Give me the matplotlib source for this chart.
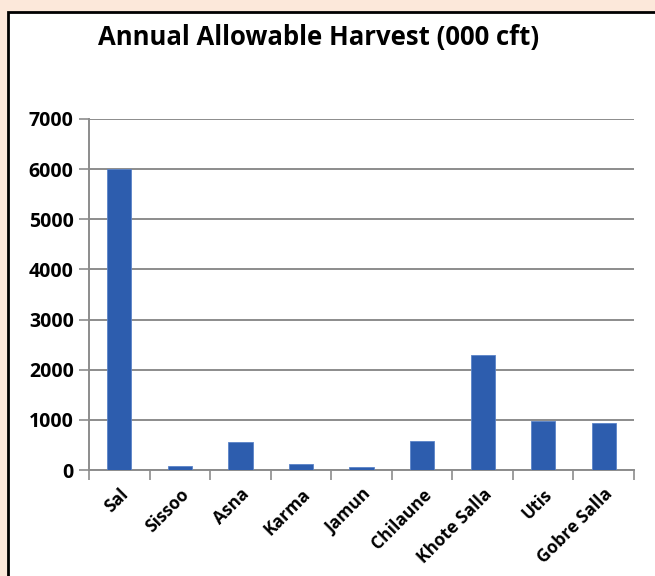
import matplotlib.pyplot as plt
import numpy as np
from matplotlib.patches import Rectangle

species = ["Sal", "Sissoo", "Asna", "Karma", "Jamun", "Chilaune",
           "Khote Salla", "Utis", "Gobre Salla"]
harvest = [6000, 80, 555, 120, 65, 585, 2290, 985, 945]
yticks = [0, 1000, 2000, 3000, 4000, 5000, 6000, 7000]

plt.rcParams["font.family"] = ["Open Sans", "DejaVu Sans"]

fig = plt.figure(figsize=(6.55, 5.76), dpi=100)
fig.patch.set_facecolor("#FCE8DA")

# white chart panel with black frame
panel = Rectangle((8 / 655, -0.05), 1.0, 1 - 12 / 576 + 0.05,
                  transform=fig.transFigure, facecolor="white",
                  edgecolor="black", linewidth=2, zorder=-5)
fig.patches.append(panel)

ax = fig.add_axes([89 / 655, 1 - 470 / 576, 545 / 655, 351 / 576])
ax.set_facecolor("none")
ax.set_zorder(2)

x = np.arange(len(species))
ax.bar(x, harvest, width=0.4, color="#2D5DAE", edgecolor="#5B84C8",
       linewidth=0.6, zorder=3)

ax.set_xlim(-0.5, len(species) - 0.5)
ax.set_ylim(0, 7000)
ax.set_yticks(yticks)
ax.set_yticklabels([str(v) for v in yticks], fontsize=14, fontweight="bold")
ax.yaxis.grid(True, color="#8C8C8C", linewidth=1.4, zorder=0)
ax.tick_params(axis="y", length=7, width=1.2, color="#8C8C8C", pad=4)

ax.set_xticks(x)
ax.set_xticklabels(species, rotation=45, ha="right", rotation_mode="anchor",
                   fontsize=12.5, fontweight="bold")
ax.tick_params(axis="x", which="major", length=0, pad=11)
ax.set_xticks(np.arange(-0.5, len(species)), minor=True)
ax.tick_params(axis="x", which="minor", length=7, width=1.2, color="#8C8C8C")

for s in ["top", "right"]:
    ax.spines[s].set_visible(False)
for s in ["left", "bottom"]:
    ax.spines[s].set_color("#8C8C8C")
    ax.spines[s].set_linewidth(1.4)

fig.text(319 / 655, 1 - 38 / 576, "Annual Allowable Harvest (000 cft)",
         ha="center", va="center", fontsize=18.5, fontweight="bold")

fig.savefig("out.png", dpi=100)
